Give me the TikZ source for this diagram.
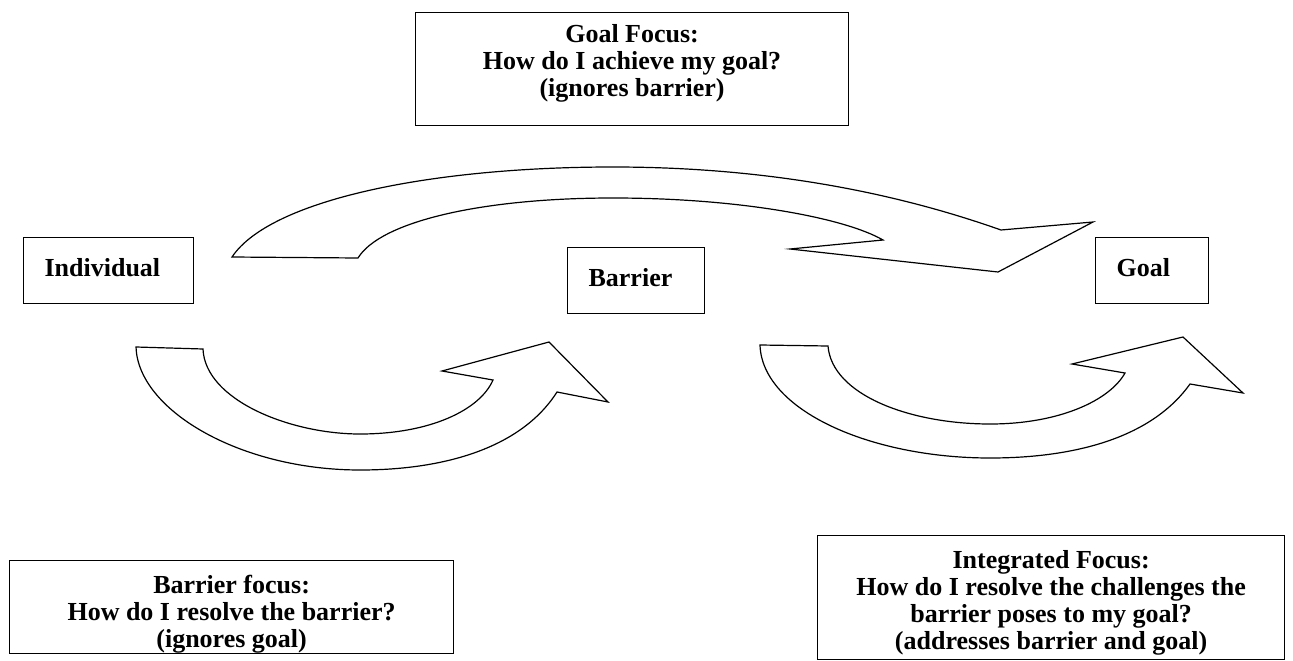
\documentclass[tikz,border=0pt]{standalone}
\usepackage{fontspec}
\setmainfont{Liberation Serif}

\begin{document}
\begin{tikzpicture}[
    x=1pt, y=-1pt,
    every node/.style={font=\fontsize{26}{27}\selectfont\bfseries},
    focusbox/.style={rectangle, draw, line width=1.2pt, anchor=north west, align=center, inner sep=0pt, text depth=6pt},
    wordbox/.style={rectangle, draw, line width=1.2pt, anchor=north west, align=left, inner xsep=21pt, inner ysep=0pt, minimum height=66pt, text height=18pt, text depth=6pt},
    blockarrow/.style={draw, line width=1.2pt, fill=white, line join=miter}
]
\useasboundingbox (0,0) rectangle (1293,661);

% Focus boxes
\node[focusbox, minimum width=433pt, minimum height=113pt, text height=61pt] (goalfocus) at (415,12) {Goal Focus:\\How do I achieve my goal?\\(ignores barrier)};
\node[focusbox, minimum width=444pt, minimum height=93pt, text height=87pt] (barrierfocus) at (9,560) {Barrier focus:\\How do I resolve the barrier?\\(ignores goal)};
\node[focusbox, minimum width=467pt, minimum height=124pt, text height=110pt] (integrated) at (817,535) {Integrated Focus:\\How do I resolve the challenges the\\barrier poses to my goal?\\(addresses barrier and goal)};

% Individual, barrier, goal
\node[wordbox, text width=128pt] (individual) at (23,237) {Individual};
\node[wordbox, text width=95pt] (barrier) at (567,247) {Barrier};
\node[wordbox, text width=71pt] (goal) at (1095,237) {Goal};

% Arrow over the barrier
\draw[blockarrow] (232,257) .. controls (270,200) and (430,167) .. (613,167)
    .. controls (800,167) and (930,205) .. (1001,230)
    -- (1093,222) -- (998,272) -- (790,249) -- (883,240)
    .. controls (845,218) and (740,198) .. (613,198)
    .. controls (480,198) and (380,222) .. (358,258) -- cycle;

% Arrow to the barrier
\draw[blockarrow] (136,347) -- (203,349)
    .. controls (205,400) and (290,434) .. (360,434)
    .. controls (430,434) and (480,410) .. (493,380)
    -- (442,371) -- (549,342) -- (608,402) -- (557,392)
    .. controls (520,450) and (440,470) .. (360,470)
    .. controls (240,470) and (138,410) .. (136,347) -- cycle;

% Arrow from the barrier to the goal
\draw[blockarrow] (760,345) -- (828,346)
    .. controls (832,395) and (910,424) .. (990,424)
    .. controls (1060,424) and (1110,400) .. (1125,373)
    -- (1072,364) -- (1183,337) -- (1243,393) -- (1190,384)
    .. controls (1150,440) and (1070,458) .. (990,458)
    .. controls (870,458) and (762,410) .. (760,345) -- cycle;

\end{tikzpicture}
\end{document}
